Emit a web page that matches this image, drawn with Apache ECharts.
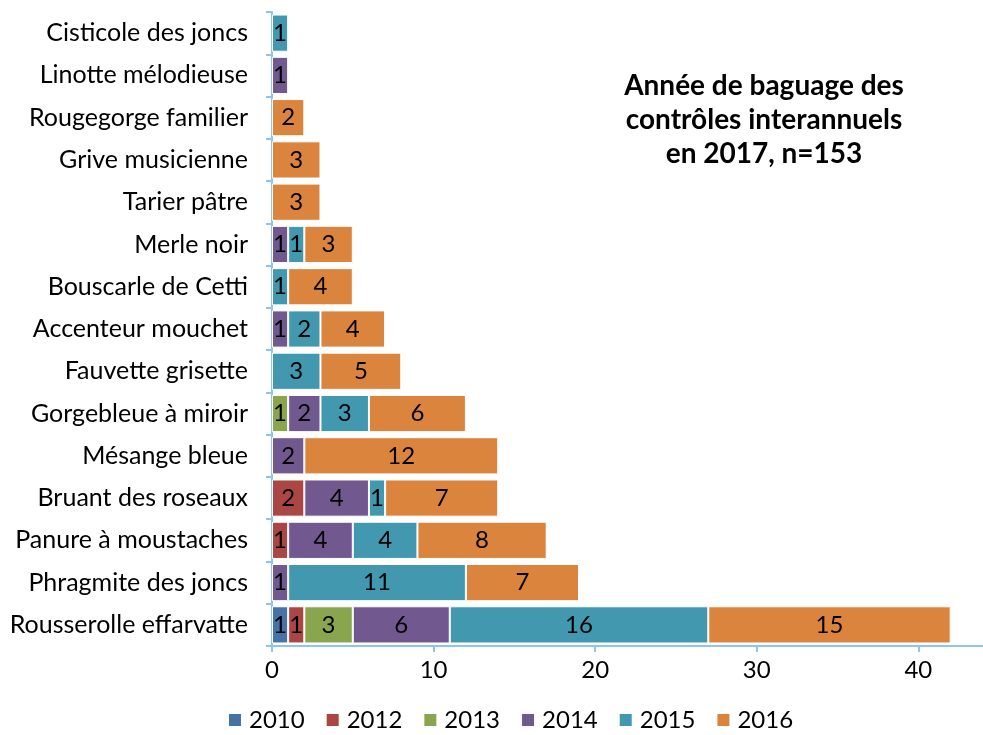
<!DOCTYPE html>
<html><head><meta charset="utf-8">
<script src="https://cdn.jsdelivr.net/npm/echarts@6/dist/echarts.min.js"></script>
<style>html,body{margin:0;padding:0;background:#fff}#c{width:983px;height:735px}</style>
</head><body><div id="c"></div>
<script>
const categories = ["Cisticole des joncs","Linotte mélodieuse","Rougegorge familier","Grive musicienne","Tarier pâtre","Merle noir","Bouscarle de Cetti","Accenteur mouchet","Fauvette grisette","Gorgebleue à miroir","Mésange bleue","Bruant des roseaux","Panure à moustaches","Phragmite des joncs","Rousserolle effarvatte"];
const years = ["2010","2012","2013","2014","2015","2016"];
const v2010 = [0,0,0,0,0,0,0,0,0,0,0,0,0,0,1];
const v2012 = [0,0,0,0,0,0,0,0,0,0,0,2,1,0,1];
const v2013 = [0,0,0,0,0,0,0,0,0,1,0,0,0,0,3];
const v2014 = [0,1,0,0,0,1,0,1,0,2,2,4,4,1,6];
const v2015 = [1,0,0,0,0,1,1,2,3,3,0,1,4,11,16];
const v2016 = [0,0,2,3,3,3,4,4,5,6,12,7,8,7,15];
const titleLines = ["Année de baguage des","contrôles interannuels","en 2017, n=153"];
const colors = ["#4572A7","#AA4643","#89A54E","#71588F","#4198AF","#DB843D"];
const vals = [v2010,v2012,v2013,v2014,v2015,v2016];
const FONT = "Lato";
const chart = echarts.init(document.getElementById('c'));
chart.setOption({
  animation:false,
  color:colors,
  textStyle:{fontFamily:FONT},
  title:{text:titleLines.join("\n"),left:759,top:64,textAlign:'center',
    textStyle:{fontFamily:FONT,fontWeight:'bold',fontSize:28,lineHeight:34,color:'#000'}},
  legend:{bottom:-2,left:222,itemWidth:14,itemHeight:14,itemGap:20,icon:'rect',
    textStyle:{fontFamily:FONT,fontSize:24,color:'#000',padding:[0,0,0,2]},data:years},
  grid:{left:272,right:0,top:12,bottom:89,containLabel:false},
  xAxis:{type:'value',min:0,max:44,interval:10,
    axisLine:{show:true,lineStyle:{color:'#8EC5F0',width:2}},
    axisTick:{show:true,length:6,lineStyle:{color:'#8EC5F0',width:2}},
    splitLine:{show:false},
    axisLabel:{fontFamily:FONT,fontSize:24,color:'#000',margin:12,showMaxLabel:false}},
  yAxis:{type:'category',data:categories,inverse:true,
    axisLine:{show:true,lineStyle:{color:'#8EC5F0',width:2}},
    axisTick:{show:true,length:6,alignWithLabel:false,lineStyle:{color:'#8EC5F0',width:2}},
    axisLabel:{fontFamily:FONT,fontSize:25,color:'#000',margin:24}},
  series: years.map((y,i)=>({
    name:y,type:'bar',stack:'total',barCategoryGap:'12%',
    data:vals[i].map(v=>v===0?null:v),
    itemStyle:{borderColor:'#fff',borderWidth:1},
    label:{show:true,position:'inside',color:'#000',fontFamily:FONT,fontSize:24,
      formatter:p=>p.value==null?'':String(p.value)}
  }))
});
</script></body></html>
